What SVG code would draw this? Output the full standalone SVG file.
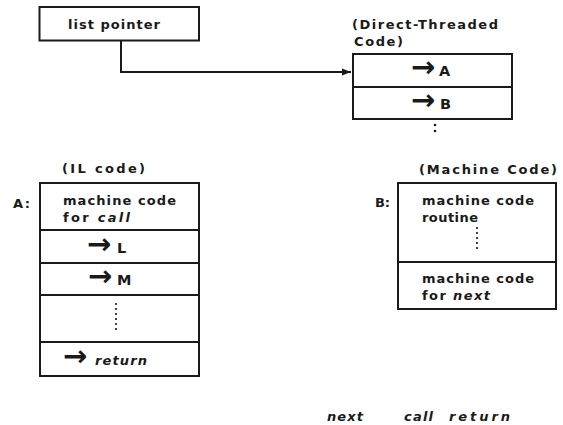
<svg xmlns="http://www.w3.org/2000/svg" width="563" height="425" viewBox="0 0 563 425">
<defs>
<style>
.box{fill:#fff;stroke:#1a1a1a;stroke-width:2}
.div{stroke:#1a1a1a;stroke-width:2}
.t{font-family:"DejaVu Sans","Liberation Sans",sans-serif;font-weight:bold;font-size:13px;fill:#1a1a1a}
.it{font-style:italic}
.big{font-size:14.5px}
.arr{font-size:29px}
.dots{stroke:#1a1a1a;stroke-width:2.2;stroke-linecap:round;stroke-dasharray:0 5;fill:none}
.conn{stroke:#1a1a1a;stroke-width:2;fill:none}
</style>
<marker id="ah" markerWidth="10" markerHeight="8" refX="9" refY="4" orient="auto" markerUnits="userSpaceOnUse">
<path d="M0,0.5 L9,4 L0,7.5 z" fill="#1a1a1a"/>
</marker>
</defs>
<rect width="563" height="425" fill="#fff"/>

<g id="connectors">
<path class="conn" d="M121,41 V72 H351" marker-end="url(#ah)"/>
</g>

<g id="list-pointer">
<rect class="box" x="39.5" y="7" width="159.5" height="33.5"/>
<text class="t" x="68" y="29" textLength="92" lengthAdjust="spacing">list pointer</text>
</g>

<g id="direct-threaded">
<text class="t" x="352" y="29" font-size="12.5" textLength="146" lengthAdjust="spacing">(Direct-Threaded</text>
<text class="t" x="354" y="46" font-size="12.5" textLength="49" lengthAdjust="spacing">Code)</text>
<rect class="box" x="353" y="54" width="159" height="65"/>
<line class="div" x1="353" y1="87" x2="512" y2="87"/>
<text class="t big" y="77"><tspan class="arr" x="411">→</tspan><tspan x="439" y="76">A</tspan></text>
<text class="t big" y="110"><tspan class="arr" x="411">→</tspan><tspan x="440" y="109">B</tspan></text>
<circle cx="435" cy="125" r="1.3" fill="#1a1a1a"/>
<circle cx="435" cy="131" r="1.3" fill="#1a1a1a"/>
</g>

<g id="il-code">
<text class="t" x="62" y="173" textLength="83" lengthAdjust="spacing">(IL code)</text>
<text class="t" x="13" y="208" textLength="17" lengthAdjust="spacing">A:</text>
<rect class="box" x="40" y="183" width="159" height="193"/>
<line class="div" x1="40" y1="230" x2="199" y2="230"/>
<line class="div" x1="40" y1="263" x2="199" y2="263"/>
<line class="div" x1="40" y1="295" x2="199" y2="295"/>
<line class="div" x1="40" y1="342" x2="199" y2="342"/>
<text class="t" x="63" y="205" textLength="113" lengthAdjust="spacing">machine code</text>
<text class="t" x="63" y="222" textLength="67" lengthAdjust="spacing">for <tspan class="it">call</tspan></text>
<text class="t big" y="254"><tspan class="arr" x="87">→</tspan><tspan x="117" y="253">L</tspan></text>
<text class="t big" y="286"><tspan class="arr" x="88">→</tspan><tspan x="117" y="285">M</tspan></text>
<line class="dots" x1="116" y1="304" x2="116" y2="334"/>
<text class="t" y="366"><tspan class="arr" x="63">→</tspan><tspan class="it" x="95" y="365" textLength="52" lengthAdjust="spacing">return</tspan></text>
</g>

<g id="machine-code">
<text class="t" x="419" y="174" textLength="138" lengthAdjust="spacing">(Machine Code)</text>
<text class="t" x="375" y="207" textLength="15" lengthAdjust="spacing">B:</text>
<rect class="box" x="398" y="183" width="158" height="126"/>
<line class="div" x1="398" y1="262" x2="556" y2="262"/>
<text class="t" x="422" y="205" textLength="112" lengthAdjust="spacing">machine code</text>
<text class="t" x="422" y="222" textLength="56" lengthAdjust="spacing">routine</text>
<line class="dots" x1="477" y1="228" x2="477" y2="253"/>
<text class="t" x="422" y="283" textLength="112" lengthAdjust="spacing">machine code</text>
<text class="t" x="422" y="300" textLength="68" lengthAdjust="spacing">for <tspan class="it">next</tspan></text>
</g>

<g id="legend">
<text class="t it" x="327" y="421" textLength="36" lengthAdjust="spacing">next</text>
<text class="t it" x="404" y="421" textLength="29" lengthAdjust="spacing">call</text>
<text class="t it" x="449" y="421" textLength="61" lengthAdjust="spacing">return</text>
</g>
</svg>
